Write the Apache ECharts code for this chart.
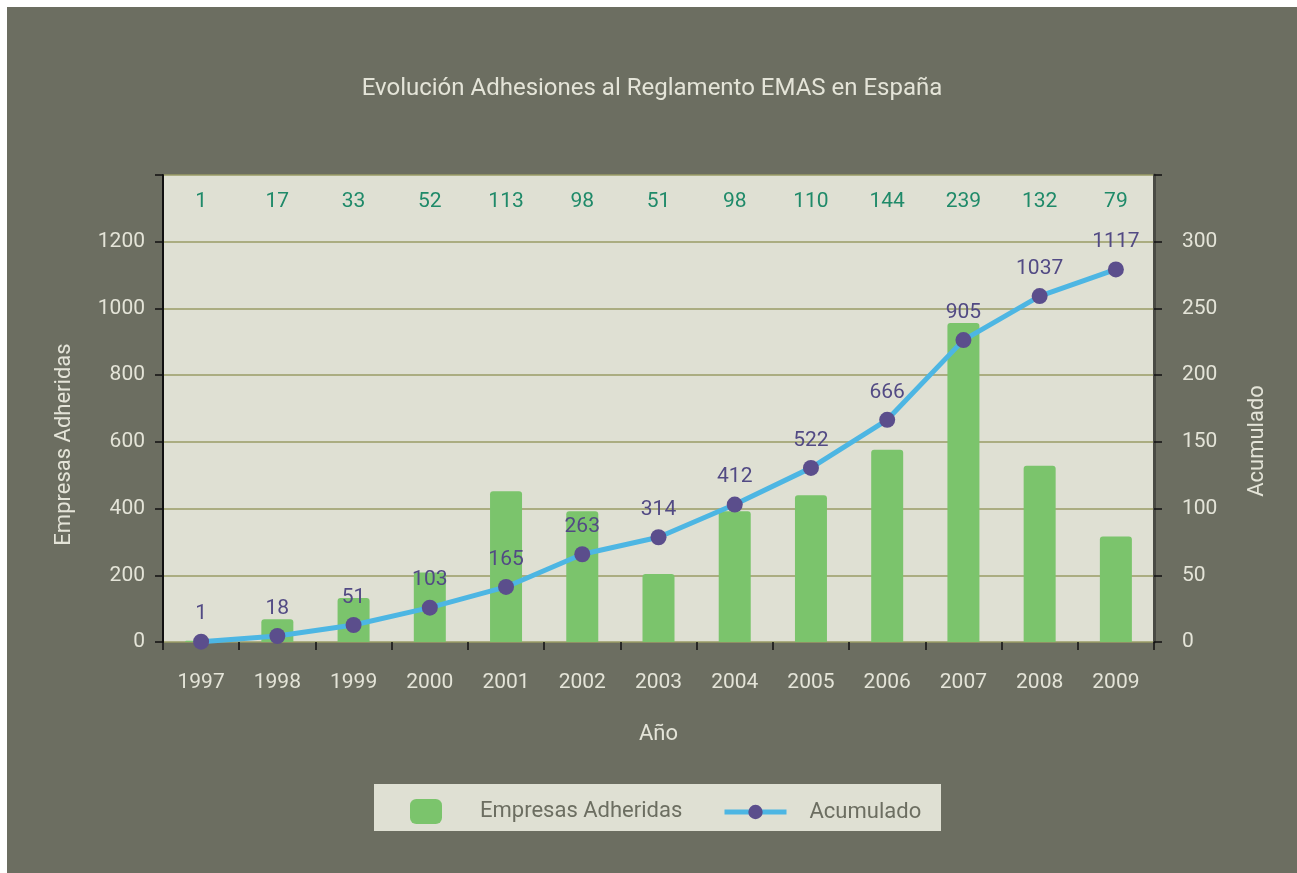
<!DOCTYPE html>
<html>
<head>
<meta charset="utf-8">
<script src="https://cdn.jsdelivr.net/npm/echarts@6/dist/echarts.min.js"></script>
<style>
  html, body { margin:0; padding:0; background:#ffffff; }
  #chart { position:absolute; left:7px; top:7px; width:1290px; height:866px; }
</style>
</head>
<body>
<div id="chart"></div>
<script>
// data
var years = ["1997","1998","1999","2000","2001","2002","2003","2004","2005","2006","2007","2008","2009"];
var adheridas = [1, 17, 33, 52, 113, 98, 51, 98, 110, 144, 239, 132, 79];
var acumulado = [1, 18, 51, 103, 165, 263, 314, 412, 522, 666, 905, 1037, 1117];
var leftTicks = [0, 200, 400, 600, 800, 1000, 1200];
var rightTicks = [0, 50, 100, 150, 200, 250, 300];

var FONT = "Roboto";
var LIGHT = "#e4e4d8";
var DARK_BG = "#6c6e61";
var PLOT_BG = "#dfe0d3";
var GRID_LINE = "#9a9c66";

var chart = echarts.init(document.getElementById("chart"));

// only show the labels that the original shows
var labelFormatter = function(list){
	return function(v){
		return list.indexOf(v) >= 0 ? v : "";
	}
}

var option = {
	backgroundColor: DARK_BG,
	animation: false,
	textStyle: { fontFamily: FONT },
	title: {
		text: "Evolución Adhesiones al Reglamento EMAS en España",
		left: "center",
		top: 65,
		textStyle: { color: LIGHT, fontSize: 24, fontWeight: "normal", fontFamily: FONT }
	},
	graphic: [{
		type: "rect",
		left: 367, top: 777, z: 0,
		shape: { width: 567, height: 47 },
		style: { fill: PLOT_BG }
	}],
	legend: [{
		data: ["Empresas Adheridas"],
		left: 398, top: 787,
		itemWidth: 32, itemHeight: 25,
		icon: "roundRect",
		textStyle: { color: DARK_BG, fontSize: 22, fontFamily: FONT, padding: [0, 0, 0, 33] }
	},{
		data: ["Acumulado"],
		left: 710, top: 789,
		itemWidth: 62, itemHeight: 18,
		lineStyle: { width: 5, color: "#4db6e3" },
		textStyle: { color: DARK_BG, fontSize: 22, fontFamily: FONT, padding: [0, 0, 0, 18] }
	}],
	grid: {
		left: 156, right: 143, top: 168, bottom: 231,
		show: true, backgroundColor: PLOT_BG, borderWidth: 0
	},
	xAxis: [{
		type: "category",
		data: years,
		name: "Año",
		nameLocation: "middle",
		nameGap: 81,
		nameTextStyle: { color: LIGHT, fontSize: 22, fontFamily: FONT },
		axisLine: { show: false },
		axisTick: { show: true, length: 8, lineStyle: { color: "#111111", width: 1.5 } },
		axisLabel: { color: LIGHT, fontSize: 21, margin: 30, fontFamily: FONT },
		splitLine: { show: false }
	},{
		// yearly values printed along the top of the plot
		type: "category",
		data: adheridas,
		position: "top",
		axisLine: { show: false },
		axisTick: { show: false },
		axisLabel: { inside: true, color: "#1f8a69", fontSize: 21, margin: 16, fontFamily: FONT },
		splitLine: { show: false }
	}],
	yAxis: [{
		type: "value",
		min: 0, max: 1400, interval: 200,
		name: "Empresas Adheridas",
		nameLocation: "middle",
		nameRotate: 90,
		nameGap: 88,
		nameTextStyle: { color: LIGHT, fontSize: 22, fontFamily: FONT, padding: [0, 72, 0, 0] },
		axisLine: { show: true, lineStyle: { color: "#111111", width: 2 } },
		axisTick: { show: true, length: 8, lineStyle: { color: "#111111", width: 1.5 } },
		axisLabel: { color: LIGHT, fontSize: 21, margin: 18, fontFamily: FONT, formatter: labelFormatter(leftTicks) },
		splitLine: { show: true, lineStyle: { color: GRID_LINE, width: 1.5 } }
	},{
		type: "value",
		min: 0, max: 350, interval: 50,
		name: "Acumulado",
		nameLocation: "middle",
		nameRotate: 90,
		nameGap: 92,
		nameTextStyle: { color: LIGHT, fontSize: 22, fontFamily: FONT, padding: [0, 65, 0, 0] },
		axisLine: { show: true, lineStyle: { color: "#4a4b44", width: 3 } },
		axisTick: { show: true, length: 8, lineStyle: { color: "#111111", width: 1.5 } },
		axisLabel: { color: LIGHT, fontSize: 21, margin: 28, fontFamily: FONT, formatter: labelFormatter(rightTicks) },
		splitLine: { show: false }
	}],
	series: [{
		name: "Empresas Adheridas",
		type: "bar",
		xAxisIndex: 0,
		yAxisIndex: 1,
		data: adheridas,
		barWidth: 32,
		itemStyle: { color: "#7bc46c", borderRadius: [3, 3, 0, 0] }
	},{
		name: "Acumulado",
		type: "line",
		xAxisIndex: 0,
		yAxisIndex: 0,
		data: acumulado,
		symbol: "circle",
		symbolSize: 16,
		lineStyle: { color: "#4db6e3", width: 5 },
		itemStyle: { color: "#5b4e8c" },
		label: { show: true, position: "top", distance: 9, color: "#524a84", fontSize: 21, fontFamily: FONT }
	}]
};

chart.setOption(option);
</script>
</body>
</html>
